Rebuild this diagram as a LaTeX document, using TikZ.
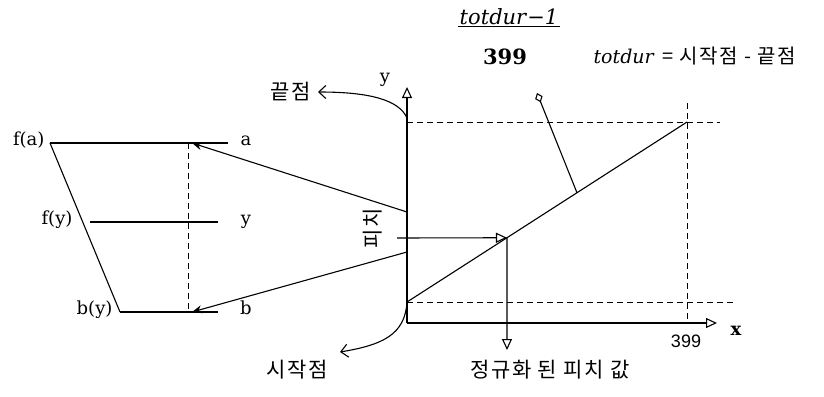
\documentclass[tikz,border=0pt]{standalone}
\usepackage{fontspec}
\setmainfont{DejaVu Serif}
\newfontfamily\korfont[LetterSpace=8]{Noto Sans CJK KR}
\newfontfamily\axisfont{Liberation Sans}
\usetikzlibrary{arrows.meta,calc,positioning}

\begin{document}
\begin{tikzpicture}[x=1pt, y=-1pt, line width=1.1pt,
  lbl/.style={font=\fontsize{18}{20}\selectfont, inner sep=1pt},
  kor/.style={font=\korfont\fontsize{21}{23}\selectfont, inner sep=1pt},
  guide/.style={dash pattern=on 6pt off 4pt, line width=1pt},
  opentip/.style={-{Triangle[open, length=11pt, width=10pt]}},
  fulltip/.style={-{Stealth[length=10pt, width=8pt]}},
  barbtip/.style={-{Straight Barb[length=7pt, width=13pt]}}]
\useasboundingbox (0,0) rectangle (824,396);

% Axes
\coordinate (O) at (407,323);
\coordinate (ytop) at (407,87);
\coordinate (xend) at (717,323);
\draw[opentip] (O) -- (ytop);
\draw[opentip] (O) -- (xend);
\node[lbl] (ylab) at (385,80) {y};
\node[lbl, font=\bfseries\fontsize{18}{20}\selectfont] (xlab) at (736,331) {x};
\node[font=\axisfont\fontsize{18}{20}\selectfont] (xmax) at (686,341) {399};

% Pitch curve and guides
\coordinate (S) at (407,302);
\coordinate (E) at (687,122);
\draw (S) -- (E);
\coordinate (topR) at (720,122);
\coordinate (botR) at (733,302);
\coordinate (vtop) at (687,103);
\coordinate (vbot) at (687,322);
\draw[guide] (E -| O) -- (topR);
\draw[guide] (S) -- (botR);
\draw[guide] (vtop) -- (vbot);

% Slope pointer
\node[font=\itshape\fontsize{21}{24}\selectfont, inner sep=1pt] (num) at (509,17) {totdur\textup{−}1};
\draw[line width=0.9pt] (num.south west) -- (num.south east);
\node[font=\bfseries\fontsize{21}{24}\selectfont] (den) at (505,57) {399};
\node[anchor=west, inner sep=0pt] (totdef) at (593,56)
  {{\itshape\fontsize{19}{22}\selectfont totdur}\hspace{9pt}{\korfont\fontsize{20}{22}\selectfont = 시작점 - 끝점}};
\coordinate (R) at ($(S)!0.607!(E)$);
\coordinate (D) at (537,93);
\draw[-{Diamond[open, length=10pt, width=8pt]}] (R) -- (D);

% Pitch in, normalized pitch out
\coordinate (Q) at ($(S)!0.357!(E)$);
\coordinate (P) at (397,238);
\coordinate (Qd) at (507,350);
\draw[opentip] (P) -- (Q);
\draw[opentip] (Q) -- (Qd);
\node[kor, rotate=90] (pitch) at (373,228) {피치};
\node[kor] (normlbl) at (550,370) {정규화 된 피치 값};

% End and start points
\coordinate (endfoot) at (407,118);
\coordinate (endtip) at (318,92);
\node[kor, anchor=east] (endlbl) at (312,92) {끝점};
\draw[barbtip] (endfoot) .. controls (399,100) and (370,92) .. (endtip);
\coordinate (starttip) at (340,352);
\node[kor] (startlbl) at (297,370) {시작점};
\draw[barbtip] (S) .. controls (405,335) and (382,345) .. (starttip);

% Mapping f
\foreach \name/\lab/\lx/\y/\sx/\ex/\rlab in
  {fa/f(a)/46/143/50/228/a, fy/f(y)/74/222/90/218/y, by/b(y)/114/312/120/218/b}{
  \node[lbl, anchor=mid east] (\name) at (\lx,\y) {\lab};
  \node[lbl, anchor=mid] (\name r) at (246,\y) {\rlab};
  \draw (\sx,\y) -- (\ex,\y);
}
\coordinate (fatop) at (50,143);
\coordinate (bybot) at (120,312);
\draw (fatop) -- (bybot);
\coordinate (ta) at (192,143);
\coordinate (tb) at (192,312);
\draw[guide] (188,143) -- (188,312);
\coordinate (Ha) at (407,212);
\coordinate (Hb) at (407,252);
\draw[fulltip] (Ha) -- (ta);
\draw[fulltip] (Hb) -- (tb);

\end{tikzpicture}
\end{document}
